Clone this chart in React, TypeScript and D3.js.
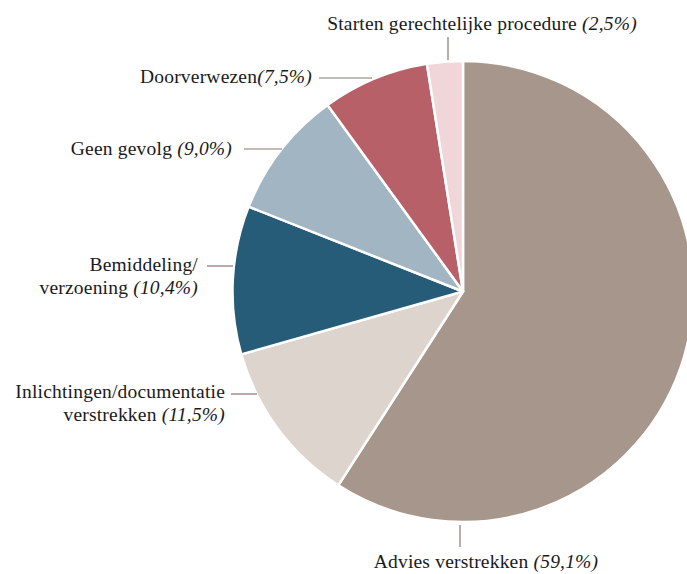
import React from "react";
import * as d3 from "d3";

const categories = [
  "Advies verstrekken",
  "Inlichtingen/documentatie verstrekken",
  "Bemiddeling/ verzoening",
  "Geen gevolg",
  "Doorverwezen",
  "Starten gerechtelijke procedure",
];
const values = [59.1, 11.5, 10.4, 9.0, 7.5, 2.5];
const valueLabels = ["59,1%", "11,5%", "10,4%", "9,0%", "7,5%", "2,5%"];
const colors = ["#a6968b", "#ddd4ce", "#265c77", "#a2b5c3", "#b86068", "#f0d6d8"];

type Layout = {
  lines: string[];
  x: number;
  y: number;
  anchor: "start" | "middle" | "end";
  line: [number, number, number, number];
};
const layouts: Layout[] = [
  { lines: ["Advies verstrekken "], x: 486, y: 568, anchor: "middle", line: [460, 525, 460, 547] },
  { lines: ["Inlichtingen/documentatie", "verstrekken "], x: 225, y: 398, anchor: "end", line: [231, 394, 257, 394] },
  { lines: ["Bemiddeling/", "verzoening "], x: 198, y: 271, anchor: "end", line: [207, 266, 233, 266] },
  { lines: ["Geen gevolg "], x: 232, y: 155, anchor: "end", line: [244, 149, 282, 149] },
  { lines: ["Doorverwezen"], x: 312, y: 83, anchor: "end", line: [319, 78, 372, 78] },
  { lines: ["Starten gerechtelijke procedure "], x: 482, y: 30, anchor: "middle", line: [448, 37, 448, 60] },
];

const W = 687;
const H = 574;
const cx = 463;
const cy = 291.5;
const R = 230.5;

export default function App() {
  const pie = d3
    .pie<number>()
    .sort(null)
    .value((d) => d)
    .startAngle(0)
    .endAngle(2 * Math.PI);
  const arcs = pie(values);
  const arc = d3.arc<d3.PieArcDatum<number>>().innerRadius(0).outerRadius(R);
  const fontFamily = "'Liberation Serif', 'Times New Roman', serif";

  return (
    <svg
      width={W}
      height={H}
      style={{ position: "absolute", left: 0, top: 0, background: "#fff" }}
      fontFamily={fontFamily}
    >
      <g transform={`translate(${cx},${cy})`}>
        {arcs.map((a, i) => (
          <path key={i} d={arc(a) || ""} fill={colors[i]} stroke="#fff" strokeWidth={2.5} strokeLinejoin="round" />
        ))}
      </g>
      {layouts.map((l, i) => (
        <g key={i}>
          <line x1={l.line[0]} y1={l.line[1]} x2={l.line[2]} y2={l.line[3]} stroke="#8b756c" strokeWidth={1.2} />
          <text x={l.x} y={l.y} textAnchor={l.anchor} fontSize={19.5} letterSpacing={0.2} fill="#1a1a1a">
            {l.lines.map((t, j) => {
              const last = j === l.lines.length - 1;
              return (
                <tspan key={j} x={l.x} dy={j === 0 ? 0 : 23}>
                  {t}
                  {last ? <tspan fontStyle="italic">({valueLabels[i]})</tspan> : null}
                </tspan>
              );
            })}
          </text>
        </g>
      ))}
    </svg>
  );
}
